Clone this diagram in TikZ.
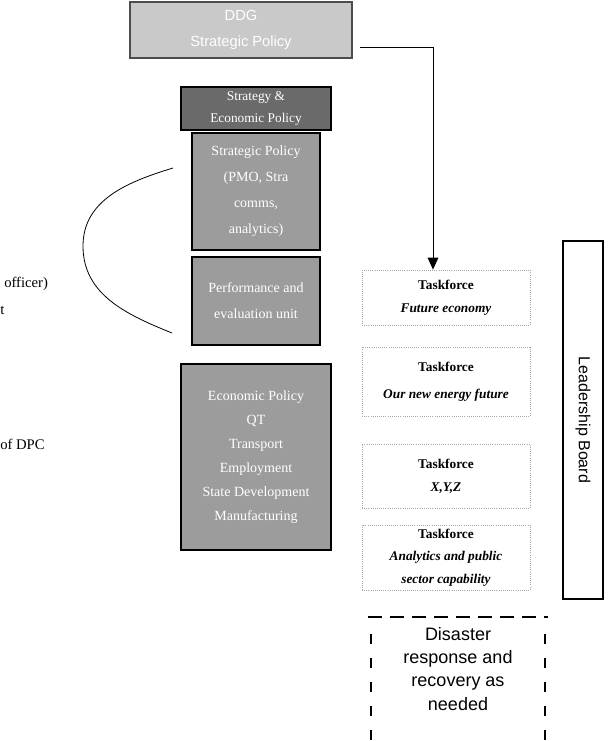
\documentclass[tikz,border=0pt]{standalone}
\usepackage{fontspec}
\setmainfont{Liberation Serif}
\setsansfont{Liberation Sans}
\usetikzlibrary{arrows.meta}
\definecolor{ddgfill}{HTML}{C9C9C9}
\definecolor{darkfill}{HTML}{6A6A6A}
\definecolor{midfill}{HTML}{9C9C9C}
\definecolor{tfborder}{HTML}{A8A8A8}
\tikzset{
  unitbox/.style={draw=black, line width=1.4pt, fill=midfill, text=white,
    font=\fontsize{10.5}{19.5}\selectfont, align=center, inner sep=0pt},
  tfbox/.style={draw=tfborder, densely dotted, line width=0.6pt, align=center,
    inner sep=0pt, font=\fontsize{10}{17}\selectfont, minimum width=168*0.75pt},
  sidenote/.style={anchor=west, font=\fontsize{11}{13}\selectfont, inner sep=0pt},
}
\begin{document}
\begin{tikzpicture}[x=0.75pt,y=-0.75pt]
\useasboundingbox (0,0) rectangle (611,741);

% Deputy Director-General box
\node[draw=black!70, line width=0.8pt, fill=ddgfill, text=white, minimum width=222*0.75pt,
  minimum height=56*0.75pt, align=center, inner sep=0pt,
  font=\sffamily\fontsize{11}{19}\selectfont] (ddg) at (241,30) {DDG\\Strategic Policy};

% Group heading
\node[draw=black, line width=1.2pt, fill=darkfill, text=white, minimum width=150*0.75pt,
  minimum height=43*0.75pt, align=center, inner sep=0pt,
  font=\fontsize{10}{16}\selectfont] (sep) at (256,108.5) {Strategy \&\\Economic Policy};

% Units
\node[unitbox, minimum width=128*0.75pt, minimum height=117*0.75pt] (stp) at (256,191.5)
  {Strategic Policy\\(PMO, Stra\\comms,\\analytics)};
\node[unitbox, minimum width=128*0.75pt, minimum height=88*0.75pt] (pev) at (256,301)
  {Performance and\\evaluation unit};
\node[unitbox, minimum width=150*0.75pt, minimum height=186*0.75pt,
  font=\fontsize{10.5}{18}\selectfont] (ecp) at (256,457)
  {Economic Policy\\QT\\Transport\\Employment\\State Development\\Manufacturing};

% Bracket grouping the two strategic units
\coordinate (arcA) at (173,168);
\coordinate (arcB) at (172,333);
\coordinate (arcL) at (83,246);
\draw[line width=0.6pt] (arcA) to[out=197,in=90] (arcL) to[out=270,in=158] (arcB);

% Notes at the left margin (cut at the page edge)
\node[sidenote] (n1) at (4,284) {officer)};
\node[sidenote] (n2) at (0,310) {t};
\node[sidenote] (n3) at (0,444) {of DPC};

% Taskforces
\node[tfbox, minimum height=55*0.75pt] (tf1) at (446,297.5)
  {\textbf{Taskforce}\\\textbf{\textit{Future economy}}};
\node[tfbox, minimum height=69*0.75pt, font=\fontsize{10}{20}\selectfont] (tf2) at (446,381.5)
  {\textbf{Taskforce}\\\textbf{\textit{Our new energy future}}};
\node[tfbox, minimum height=64*0.75pt] (tf3) at (446,476)
  {\textbf{Taskforce}\\\textbf{\textit{X,Y,Z}}};
\node[tfbox, minimum height=65*0.75pt] (tf4) at (446,557.5)
  {\textbf{Taskforce}\\\textbf{\textit{Analytics and public}}\\\textbf{\textit{sector capability}}};

% Leadership board
\node[draw=black, line width=0.9pt, minimum width=40*0.75pt, minimum height=358*0.75pt,
  inner sep=0pt] (lb) at (583,420) {};
\node[rotate=-90, font=\sffamily\fontsize{12}{14}\selectfont, inner sep=0pt] (lbt) at (lb.center)
  {Leadership Board};

% Link from the DDG to the first taskforce
\coordinate (linkA) at (360,47);
\coordinate (linkB) at (433,47);
\draw[line width=0.7pt, -{Triangle[length=9pt,width=8pt]}] (linkA) -- (linkB) -- (linkB |- tf1.north);

% Disaster response (open at the bottom)
\coordinate (dTL) at (368,617);
\coordinate (dTR) at (548,617);
\coordinate (dBL) at (371,741);
\coordinate (dBR) at (545,741);
\draw[line width=2pt, dash pattern=on 10.5pt off 6pt] (dTL) -- (dTR);
\draw[line width=1.6pt, dash pattern=on 7.5pt off 10.5pt] (dBL |- 634,634) -- (dBL);
\draw[line width=1.6pt, dash pattern=on 7.5pt off 10.5pt] (dBR |- 634,634) -- (dBR);
\node[align=center, inner sep=0pt, font=\sffamily\fontsize{13.5}{17.5}\selectfont, anchor=north]
  (drr) at (458,627) {Disaster\\response and\\recovery as\\needed};
\end{tikzpicture}
\end{document}
